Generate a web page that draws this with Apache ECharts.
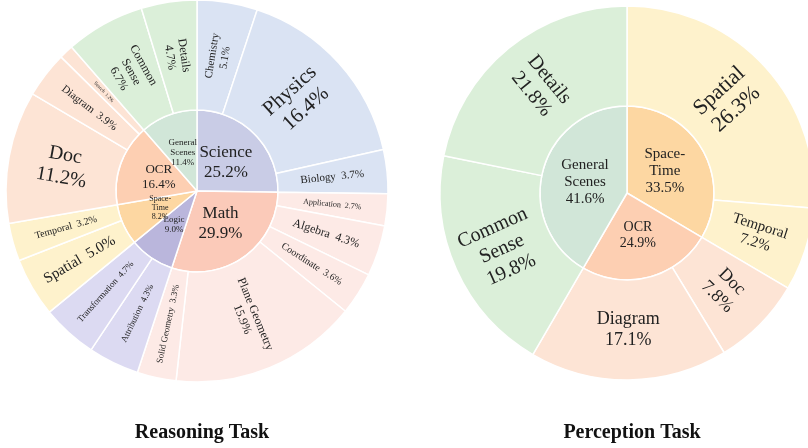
<!DOCTYPE html>
<html>
<head>
<meta charset="utf-8">
<script src="https://cdn.jsdelivr.net/npm/echarts@6/dist/echarts.min.js"></script>
<style>
  html, body { margin: 0; padding: 0; background: #fff; }
  #main { width: 808px; height: 448px; }
</style>
</head>
<body>
<div id="main"></div>
<script>
// Reasoning task (left)
const reasonParents = ['Science', 'Math', 'Logic', 'Space-Time', 'OCR', 'General Scenes'];
const reasonParentPct = [25.2, 29.9, 9.0, 8.2, 16.4, 11.4];
const reasonChildren = [
  ['Chemistry', 'Physics', 'Biology'],
  ['Application', 'Algebra', 'Coordinate', 'Plane Geometry', 'Solid Geometry'],
  ['Attribution', 'Transformation'],
  ['Spatial', 'Temporal'],
  ['Doc', 'Diagram', 'Search'],
  ['Common Sense', 'Details']
];
const reasonChildPct = [
  [5.1, 16.4, 3.7],
  [2.7, 4.3, 3.6, 15.9, 3.3],
  [4.3, 4.7],
  [5.0, 3.2],
  [11.2, 3.9, 1.2],
  [6.7, 4.7]
];

// Perception task (right)
const perceptParents = ['Space-Time', 'OCR', 'General Scenes'];
const perceptParentPct = [33.5, 24.9, 41.6];
const perceptChildren = [
  ['Spatial', 'Temporal'],
  ['Doc', 'Diagram'],
  ['Common Sense', 'Details']
];
const perceptChildPct = [
  [26.3, 7.2],
  [7.8, 17.1],
  [19.8, 21.8]
];

// colours: [inner, outer]
const colors = {
  'Science': ['#c9cce6', '#dae3f3'],
  'Math': ['#fbcab9', '#fdeae6'],
  'Logic': ['#bab6dc', '#dcdaf2'],
  'Space-Time': ['#fdd7a2', '#fef2cc'],
  'OCR': ['#fdcfb2', '#fde4d5'],
  'General Scenes': ['#d1e6d8', '#dbefd9']
};

// label style: [fontSize, layout, fixed rotation]
const leftLabel = {
  'Science': [17, 'two'], 'Math': [17, 'two'], 'Logic': [9, 'two'], 'Space-Time': [8, 'split'],
  'OCR': [13, 'two'], 'General Scenes': [9, 'split'],
  'Chemistry': [11, 'two'], 'Physics': [21, 'two'], 'Biology': [11, 'one'],
  'Application': [8, 'one'], 'Algebra': [12, 'one'], 'Coordinate': [10, 'one'],
  'Plane Geometry': [12, 'two'], 'Solid Geometry': [9, 'one'],
  'Attribution': [9, 'one'], 'Transformation': [9, 'one'],
  'Spatial': [15, 'one'], 'Temporal': [10, 'one'],
  'Doc': [20, 'two'], 'Diagram': [11, 'one'], 'Search': [5, 'one'],
  'Common Sense': [12, 'split'], 'Details': [12, 'two']
};
const rightLabel = {
  'Space-Time': [15, 'split'], 'OCR': [14, 'two'], 'General Scenes': [15, 'split'],
  'Spatial': [22, 'two'], 'Temporal': [15, 'two'],
  'Doc': [18, 'two'], 'Diagram': [18, 'two', 0],
  'Common Sense': [20, 'split'], 'Details': [20, 'two']
};

function labelText(name, pct, layout) {
  const p = pct.toFixed(1) + '%';
  if (layout === 'one') return name + '  ' + p;
  if (layout === 'split') return name.replace('-', '-\n').replace(' ', '\n') + '\n' + p;
  return name + '\n' + p;
}

function node(name, pct, color, style, rot) {
  return {
    name: name,
    value: pct,
    itemStyle: { color: color },
    label: {
      formatter: labelText(name, pct, style[1]),
      fontSize: style[0],
      lineHeight: Math.round(style[0] * 1.15),
      rotate: style[2] !== undefined ? style[2] : rot
    }
  };
}

function buildTree(parents, parentPct, children, childPct, styles) {
  return parents.map((p, i) => {
    const n = node(p, parentPct[i], colors[p][0], styles[p], 0);
    delete n.value;
    n.children = children[i].map((c, j) =>
      node(c, childPct[i][j], colors[p][1], styles[c], 'radial'));
    return n;
  });
}

function sunburst(data, center, r0, r1) {
  return {
    type: 'sunburst',
    center: center,
    radius: [0, r1],
    sort: null,
    nodeClick: false,
    startAngle: 90,
    data: data,
    itemStyle: { borderColor: '#fff', borderWidth: 1.5 },
    label: { color: '#222', fontFamily: 'Liberation Serif', align: 'center' },
    emphasis: { focus: 'none' },
    levels: [
      {},
      { r0: 0, r: r0 },
      { r0: r0, r: r1 }
    ]
  };
}

const chart = echarts.init(document.getElementById('main'));
chart.setOption({
  animation: false,
  title: [
    { text: 'Reasoning Task', left: 197, top: 418, textAlign: 'center',
      textStyle: { fontFamily: 'Liberation Serif', fontSize: 20, fontWeight: 'bold', color: '#111' } },
    { text: 'Perception Task', left: 627, top: 418, textAlign: 'center',
      textStyle: { fontFamily: 'Liberation Serif', fontSize: 20, fontWeight: 'bold', color: '#111' } }
  ],
  series: [
    sunburst(buildTree(reasonParents, reasonParentPct, reasonChildren, reasonChildPct, leftLabel),
      [197, 191], 81, 191),
    sunburst(buildTree(perceptParents, perceptParentPct, perceptChildren, perceptChildPct, rightLabel),
      [627, 193], 87, 187)
  ]
});
</script>
</body>
</html>
